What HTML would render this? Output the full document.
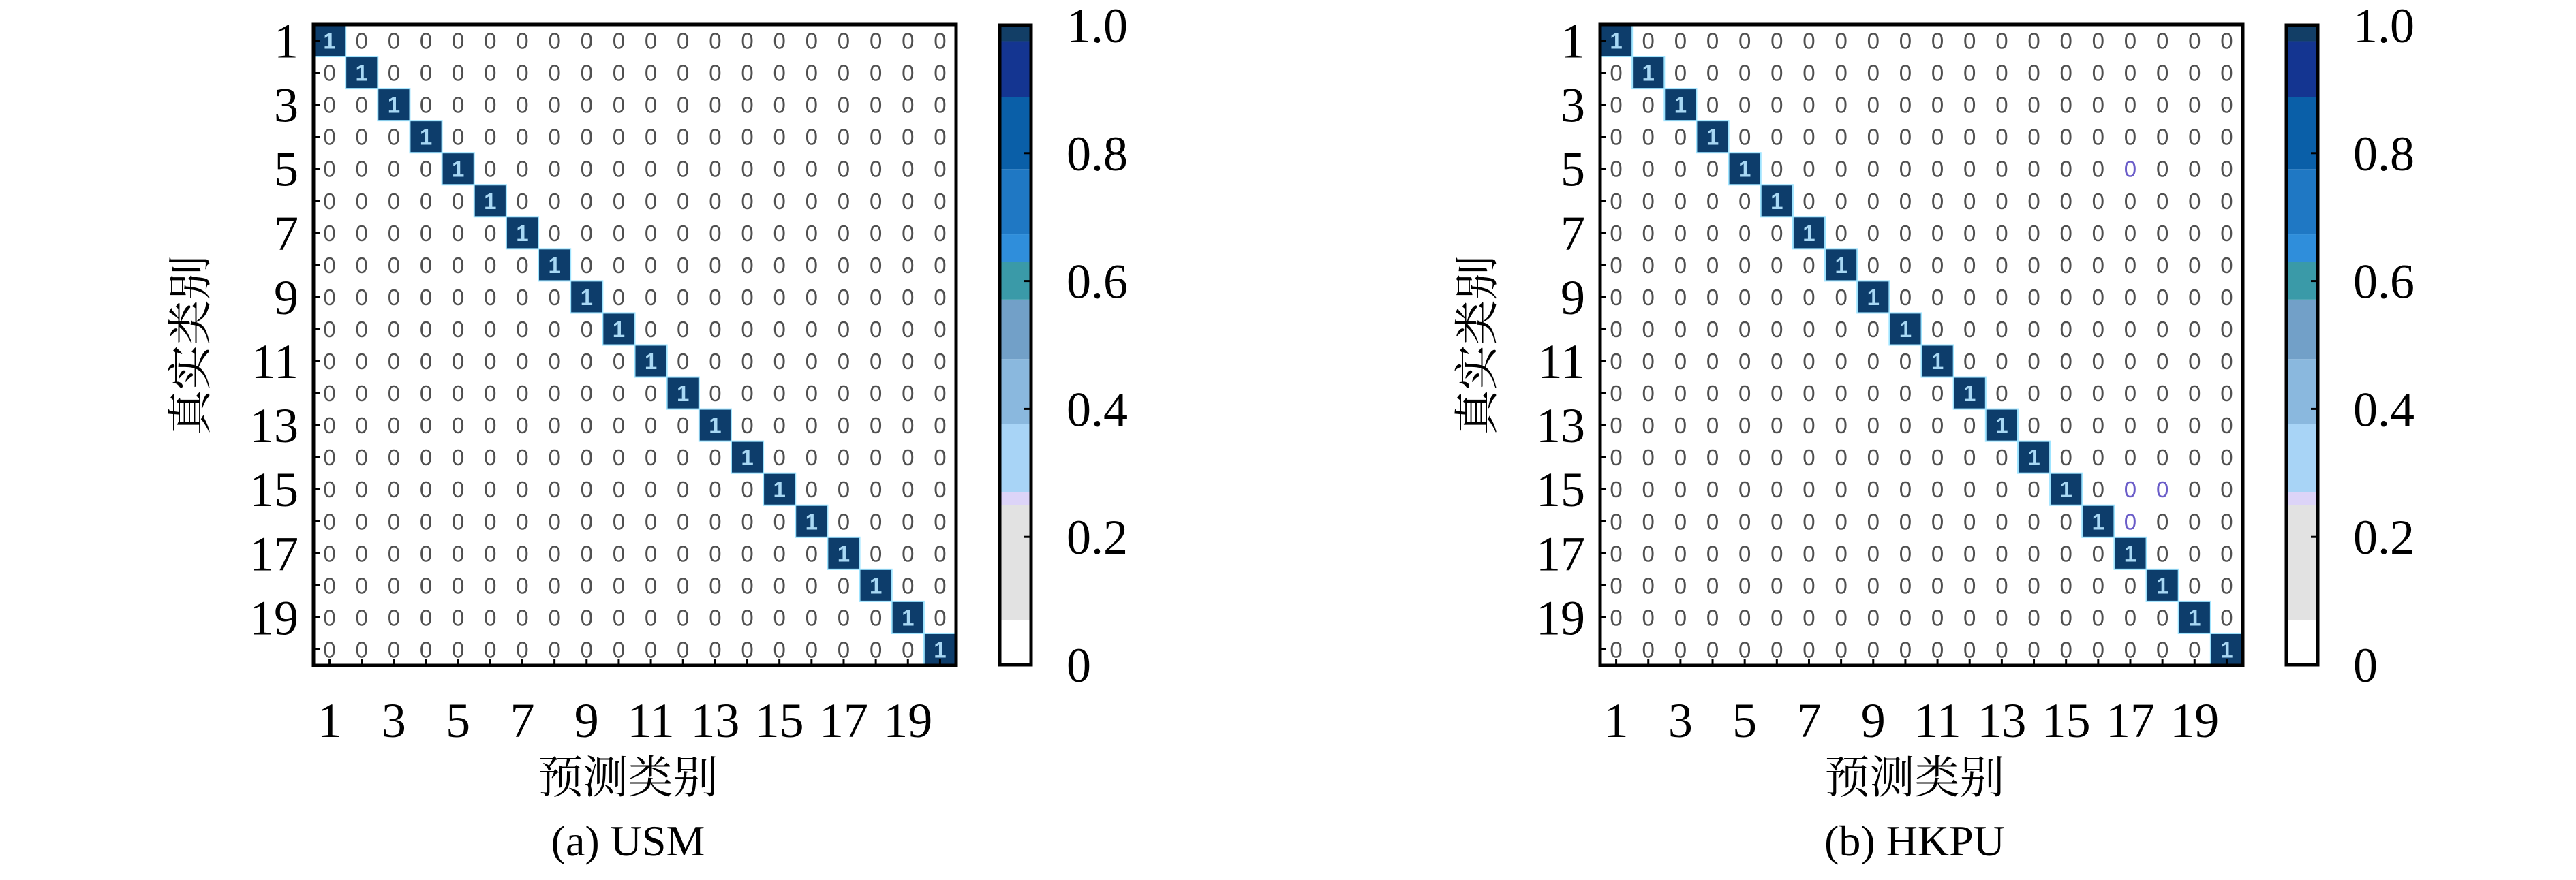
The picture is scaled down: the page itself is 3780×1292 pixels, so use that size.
<!DOCTYPE html>
<html><head><meta charset="utf-8">
<style>
html,body{margin:0;padding:0;background:#fff;}
svg{display:block;}
</style></head>
<body>
<svg id="fig" width="3780" height="1292" xmlns="http://www.w3.org/2000/svg"></svg>
<script>
const categories = [1,2,3,4,5,6,7,8,9,10,11,12,13,14,15,16,17,18,19,20];
const tickLabels = [1,3,5,7,9,11,13,15,17,19];
const cbTicks = [0,0.2,0.4,0.6,0.8,1.0];
const cbTickLabels = ["0","0.2","0.4","0.6","0.8","1.0"];
const usmMatrix = [
[1,0,0,0,0,0,0,0,0,0,0,0,0,0,0,0,0,0,0,0],
[0,1,0,0,0,0,0,0,0,0,0,0,0,0,0,0,0,0,0,0],
[0,0,1,0,0,0,0,0,0,0,0,0,0,0,0,0,0,0,0,0],
[0,0,0,1,0,0,0,0,0,0,0,0,0,0,0,0,0,0,0,0],
[0,0,0,0,1,0,0,0,0,0,0,0,0,0,0,0,0,0,0,0],
[0,0,0,0,0,1,0,0,0,0,0,0,0,0,0,0,0,0,0,0],
[0,0,0,0,0,0,1,0,0,0,0,0,0,0,0,0,0,0,0,0],
[0,0,0,0,0,0,0,1,0,0,0,0,0,0,0,0,0,0,0,0],
[0,0,0,0,0,0,0,0,1,0,0,0,0,0,0,0,0,0,0,0],
[0,0,0,0,0,0,0,0,0,1,0,0,0,0,0,0,0,0,0,0],
[0,0,0,0,0,0,0,0,0,0,1,0,0,0,0,0,0,0,0,0],
[0,0,0,0,0,0,0,0,0,0,0,1,0,0,0,0,0,0,0,0],
[0,0,0,0,0,0,0,0,0,0,0,0,1,0,0,0,0,0,0,0],
[0,0,0,0,0,0,0,0,0,0,0,0,0,1,0,0,0,0,0,0],
[0,0,0,0,0,0,0,0,0,0,0,0,0,0,1,0,0,0,0,0],
[0,0,0,0,0,0,0,0,0,0,0,0,0,0,0,1,0,0,0,0],
[0,0,0,0,0,0,0,0,0,0,0,0,0,0,0,0,1,0,0,0],
[0,0,0,0,0,0,0,0,0,0,0,0,0,0,0,0,0,1,0,0],
[0,0,0,0,0,0,0,0,0,0,0,0,0,0,0,0,0,0,1,0],
[0,0,0,0,0,0,0,0,0,0,0,0,0,0,0,0,0,0,0,1]
];
const hkpuMatrix = [
[1,0,0,0,0,0,0,0,0,0,0,0,0,0,0,0,0,0,0,0],
[0,1,0,0,0,0,0,0,0,0,0,0,0,0,0,0,0,0,0,0],
[0,0,1,0,0,0,0,0,0,0,0,0,0,0,0,0,0,0,0,0],
[0,0,0,1,0,0,0,0,0,0,0,0,0,0,0,0,0,0,0,0],
[0,0,0,0,1,0,0,0,0,0,0,0,0,0,0,0,0,0,0,0],
[0,0,0,0,0,1,0,0,0,0,0,0,0,0,0,0,0,0,0,0],
[0,0,0,0,0,0,1,0,0,0,0,0,0,0,0,0,0,0,0,0],
[0,0,0,0,0,0,0,1,0,0,0,0,0,0,0,0,0,0,0,0],
[0,0,0,0,0,0,0,0,1,0,0,0,0,0,0,0,0,0,0,0],
[0,0,0,0,0,0,0,0,0,1,0,0,0,0,0,0,0,0,0,0],
[0,0,0,0,0,0,0,0,0,0,1,0,0,0,0,0,0,0,0,0],
[0,0,0,0,0,0,0,0,0,0,0,1,0,0,0,0,0,0,0,0],
[0,0,0,0,0,0,0,0,0,0,0,0,1,0,0,0,0,0,0,0],
[0,0,0,0,0,0,0,0,0,0,0,0,0,1,0,0,0,0,0,0],
[0,0,0,0,0,0,0,0,0,0,0,0,0,0,1,0,0,0,0,0],
[0,0,0,0,0,0,0,0,0,0,0,0,0,0,0,1,0,0,0,0],
[0,0,0,0,0,0,0,0,0,0,0,0,0,0,0,0,1,0,0,0],
[0,0,0,0,0,0,0,0,0,0,0,0,0,0,0,0,0,1,0,0],
[0,0,0,0,0,0,0,0,0,0,0,0,0,0,0,0,0,0,1,0],
[0,0,0,0,0,0,0,0,0,0,0,0,0,0,0,0,0,0,0,1]
];
// cells whose rounded "0" text is tinted in the HKPU panel: [row, col] (1-based)
const hkpuTintedZeros = [[5,17],[15,17],[15,18],[16,17]];
// colormap bands: lower bound value and colour
const bandStarts = [0, 0.07, 0.25, 0.27, 0.376, 0.478, 0.571, 0.63, 0.673, 0.775, 0.888, 0.975];
const bandColors = ["#ffffff","#e2e2e2","#dcd4f8","#a8d4f6","#8ab8de","#72a0c8","#3a9aa8","#2f8edb","#1f78c4","#0a5fa8","#143591","#123e66"];

const NS = "http://www.w3.org/2000/svg";
const svg = document.getElementById('fig');
function mk(tag, attrs, parent){
  const e = document.createElementNS(NS, tag);
  for (const k in attrs) e.setAttribute(k, attrs[k]);
  (parent||svg).appendChild(e);
  return e;
}
function colorFor(v){
  if (v >= 0.999) return "#0d3d6b";
  let c = bandColors[0];
  for (let i=0;i<bandStarts.length;i++) if (v >= bandStarts[i]) c = bandColors[i];
  return c;
}
const SERIF = '"Liberation Serif", "Noto Serif CJK SC", serif';
const CJKSERIF = '"Liberation Serif", "Noto Serif CJK SC", "Noto Sans CJK SC", serif';
const SANS = '"Liberation Sans", sans-serif';

function panel(ox, matrix, caption, name, tinted){
  const g = mk('g', {});
  
  
  const L = ox, T = 36, W = 943, H = 941;
  const n = categories.length;
  const cw = W / n, ch = H / n;
  const xScale = c => L + (c - 1) * cw;
  const yScale = r => T + (r - 1) * ch;
  for (let r = 0; r < n; r++) {
    for (let c = 0; c < n; c++) {
      const v = matrix[r][c];
      const x = xScale(categories[c]), y = yScale(categories[r]);
      if (v > 0) {
        const rc = mk('rect', {x:x, y:y, width:cw, height:ch, fill:colorFor(v), stroke:"#9fe4ff", 'stroke-width':2}, g);
        
        
      }
      let col = v > 0.5 ? "#a8d8f4" : "#505050";
      if (tinted && tinted.some(p => p[0] === r+1 && p[1] === c+1)) col = "#6a5cc8";
      const t = mk('text', {x:x + cw/2, y:y + ch/2 + 12, 'text-anchor':'middle', 'font-family':SANS, 'font-size':33, fill:col, 'font-weight': v > 0.5 ? 'bold' : 'normal'}, g);
      t.textContent = String(Math.round(v));
      
      
    }
  }
  for (let i = 0; i < n; i++) {
    const yc = yScale(categories[i]) + ch/2;
    mk('line', {x1:L, x2:L+9, y1:yc, y2:yc, stroke:'#000', 'stroke-width':3}, g);
    const xc = xScale(categories[i]) + cw/2;
    mk('line', {x1:xc, x2:xc, y1:T+H, y2:T+H-9, stroke:'#000', 'stroke-width':3}, g);
  }
  const fr = mk('rect', {x:L, y:T, width:W, height:H, fill:'none', stroke:'#000', 'stroke-width':5}, g);
  
  
  tickLabels.forEach(v => {
    const yl = mk('text', {x:L - 22, y:yScale(v) + ch/2 + 25, 'text-anchor':'end', 'font-family':SERIF, 'font-size':72, fill:'#000'}, g);
    yl.textContent = v;
    
    
    const xl = mk('text', {x:xScale(v) + cw/2, y:T + H + 105, 'text-anchor':'middle', 'font-family':SERIF, 'font-size':72, fill:'#000'}, g);
    xl.textContent = v;
    
    
  });
  const xt = mk('text', {x:L + W/2 - 10, y:1164, 'text-anchor':'middle', 'font-family':CJKSERIF, 'font-size':66, fill:'#000'}, g);
  xt.textContent = '预测类别';
  
  
  const yt = mk('text', {x:0, y:0, 'text-anchor':'middle', 'font-family':CJKSERIF, 'font-size':66, fill:'#000', transform:'translate(' + (L - 158) + ',' + (T + H/2) + ') rotate(-90)'}, g);
  yt.textContent = '真实类别';
  
  
  const cap = mk('text', {x:L + W/2 - 10, y:1256, 'text-anchor':'middle', 'font-family':SERIF, 'font-size':64, fill:'#000'}, g);
  cap.textContent = caption;
  
  
  const cbL = ox + 1007, cbT = 37, cbW = 46, cbH = 939;
  const cy = v => cbT + cbH * (1 - v);
  const cb = mk('g', {}, g);
  
  
  for (let i = 0; i < bandStarts.length; i++) {
    const lo = bandStarts[i], hi = i + 1 < bandStarts.length ? bandStarts[i+1] : 1;
    const br = mk('rect', {x:cbL, y:cy(hi), width:cbW, height:cy(lo) - cy(hi), fill:bandColors[i]}, cb);
    
    
  }
  cbTicks.forEach((v, i) => {
    if (v > 0 && v < 1) mk('line', {x1:cbL + cbW - 10, x2:cbL + cbW, y1:cy(v), y2:cy(v), stroke:'#000', 'stroke-width':3}, cb);
    const tl = mk('text', {x:cbL + 98, y:cy(v) + 25, 'font-family':SERIF, 'font-size':72, fill:'#000'}, cb);
    tl.textContent = cbTickLabels[i];
    
    
  });
  mk('rect', {x:cbL, y:cbT, width:cbW, height:cbH, fill:'none', stroke:'#000', 'stroke-width':5}, cb);
}
panel(460, usmMatrix, '(a) USM', 'usm', null);
panel(2348, hkpuMatrix, '(b) HKPU', 'hkpu', hkpuTintedZeros);
</script>
</body></html>
